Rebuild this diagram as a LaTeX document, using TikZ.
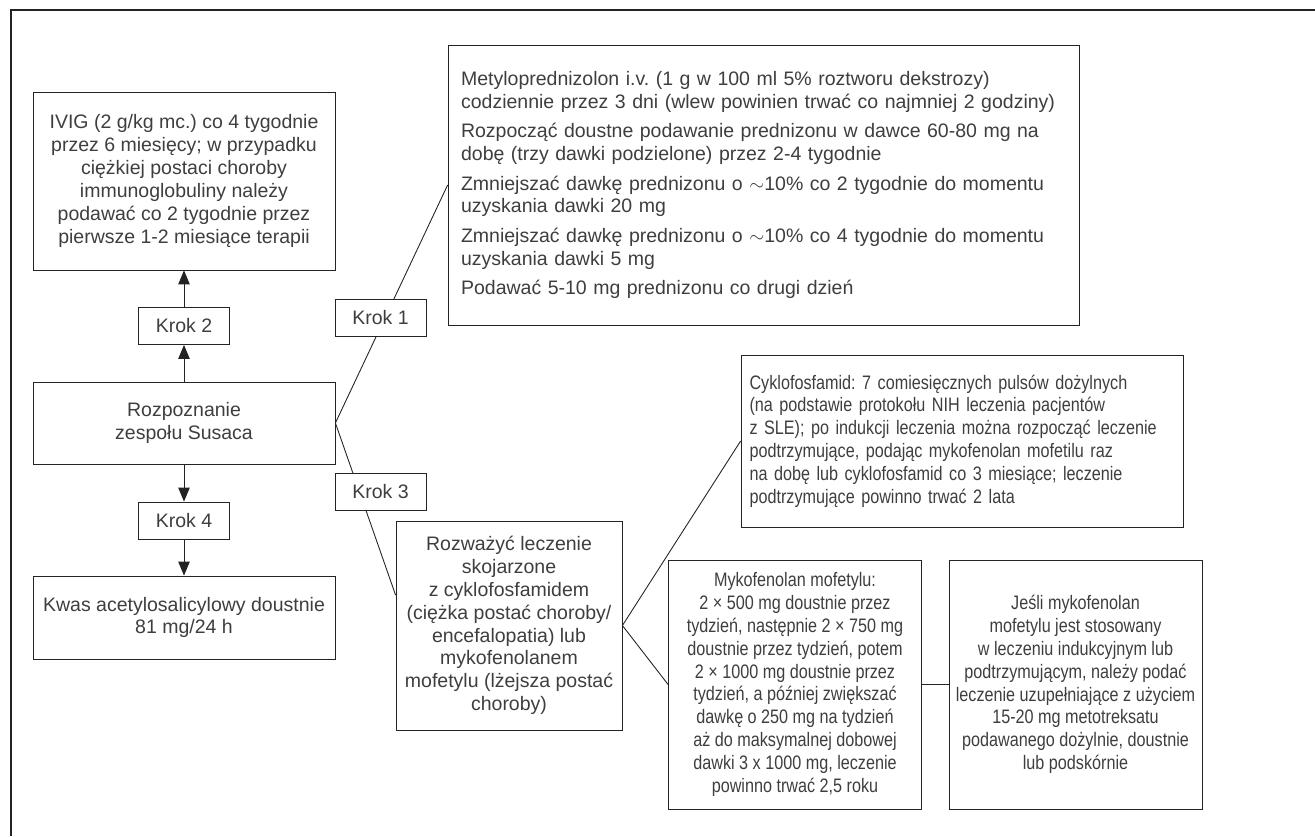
\documentclass[tikz,border=0pt]{standalone}
\usepackage{fontspec}
\setmainfont{Liberation Sans}
\newfontfamily\narrowfont[FakeStretch=0.83]{Liberation Sans}
\usepackage{tikz}
\usetikzlibrary{arrows.meta,calc}
\definecolor{txtgray}{RGB}{62,62,62}
\definecolor{linegray}{RGB}{35,35,35}
\frenchspacing
\hyphenpenalty=10000
\exhyphenpenalty=10000

\begin{document}
\begin{tikzpicture}[x=0.02cm, y=-0.02cm,
    box/.style={draw=linegray, line width=0.5pt, inner sep=0pt, align=center,
                text=txtgray, font=\fontsize{11.1}{13}\selectfont},
    narrowbox/.style={box, font=\narrowfont\fontsize{11.1}{13}\selectfont},
    krok/.style={box, fill=white, minimum width=1.82cm, minimum height=0.74cm},
    arr/.style={draw=linegray, line width=0.5pt, -{Triangle[length=2.8mm, width=2.3mm]}},
    conn/.style={draw=linegray, line width=0.5pt}]

    \useasboundingbox (0,0) rectangle (1315,836);

    %% Outer frame (only left and top edges visible)
    \draw[linegray, line width=0.6pt] (11,836) -- (11,10) -- (1315,10);

    %% Left column
    \node[box, minimum width=6.04cm, minimum height=3.56cm] (ivig) at (184,181)
        {IVIG (2 g/kg mc.) co 4 tygodnie\\przez 6 miesięcy; w przypadku\\ciężkiej postaci choroby\\immunoglobuliny należy\\podawać co 2 tygodnie przez\\pierwsze 1-2 miesiące terapii};
    \node[krok] (krok2) at (184,326) {Krok 2};
    \node[box, minimum width=6.04cm, minimum height=1.64cm] (rozp) at (184,423)
        {Rozpoznanie\\zespołu Susaca};
    \node[krok] (krok4) at (184,520.5) {Krok 4};
    \node[box, minimum width=6.04cm, minimum height=1.66cm] (kwas) at (184,617.5)
        {Kwas acetylosalicylowy doustnie\\81 mg/24 h};

    \draw[arr] (rozp.north) -- (krok2.south);
    \draw[arr] (krok2.north) -- (ivig.south);
    \draw[arr] (rozp.south) -- (krok4.north);
    \draw[arr] (krok4.south) -- (kwas.north);

    %% Step 1: steroid box
    \node[box, minimum width=12.62cm, minimum height=5.6cm, text width=12.1cm, align=left] (metyl) at (763.5,185)
        {Metyloprednizolon i.v. (1 g w 100 ml 5\% roztworu dekstrozy)\\
         codziennie przez 3 dni (wlew powinien trwać co najmniej 2 godziny)\\[3.8pt]
         Rozpocząć doustne podawanie prednizonu w dawce 60-80 mg na\\
         dobę (trzy dawki podzielone) przez 2-4 tygodnie\\[3.8pt]
         Zmniejszać dawkę prednizonu o $\sim$10\% co 2 tygodnie do momentu\\
         uzyskania dawki 20 mg\\[3.8pt]
         Zmniejszać dawkę prednizonu o $\sim$10\% co 4 tygodnie do momentu\\
         uzyskania dawki 5 mg\\[3.8pt]
         Podawać 5-10 mg prednizonu co drugi dzień};

    %% Step 3: combined therapy
    \node[box, minimum width=4.52cm, minimum height=4.18cm] (rozw) at (509,625.5)
        {Rozważyć leczenie\\skojarzone\\z cyklofosfamidem\\(ciężka postać choroby/\\encefalopatia) lub\\mykofenolanem\\mofetylu (lżejsza postać\\choroby)};
    \node[narrowbox, minimum width=8.84cm, minimum height=3.44cm, text width=8.5cm, align=left] (cyklo) at (962,441)
        {Cyklofosfamid: 7 comiesięcznych pulsów dożylnych\\
         (na podstawie protokołu NIH leczenia pacjentów\\
         z SLE); po indukcji leczenia można rozpocząć leczenie\\
         podtrzymujące, podając mykofenolan mofetilu raz\\
         na dobę lub cyklofosfamid co 3 miesiące; leczenie\\
         podtrzymujące powinno trwać 2 lata};
    \node[narrowbox, minimum width=5.06cm, minimum height=4.98cm] (myko) at (795,684.5)
        {Mykofenolan mofetylu:\\2 × 500 mg doustnie przez\\tydzień, następnie 2 × 750 mg\\doustnie przez tydzień, potem\\2 × 1000 mg doustnie przez\\tydzień, a później zwiększać\\dawkę o 250 mg na tydzień\\aż do maksymalnej dobowej\\dawki 3 x 1000 mg, leczenie\\powinno trwać 2,5 roku};
    \node[narrowbox, minimum width=5.06cm, minimum height=4.98cm] (jesli) at (1075.5,684.5)
        {Jeśli mykofenolan\\mofetylu jest stosowany\\w leczeniu indukcyjnym lub\\podtrzymującym, należy podać\\leczenie uzupełniające z użyciem\\15-20 mg metotreksatu\\podawanego dożylnie, doustnie\\lub podskórnie};

    %% Connectors
    \draw[conn] (rozp.east) -- (metyl.west);
    \draw[conn] (rozp.east) -- ($(rozw.north west)!0.355!(rozw.south west)$);
    \draw[conn] (rozw.east) -- (cyklo.west);
    \draw[conn] (rozw.east) -- (myko.west);
    \draw[conn] (myko.east) -- (jesli.west);

    %% Step labels sitting on the lines
    \node[krok] (krok1) at (380.5,317.5) {Krok 1};
    \node[krok] (krok3) at (380.5,491.5) {Krok 3};

\end{tikzpicture}
\end{document}
